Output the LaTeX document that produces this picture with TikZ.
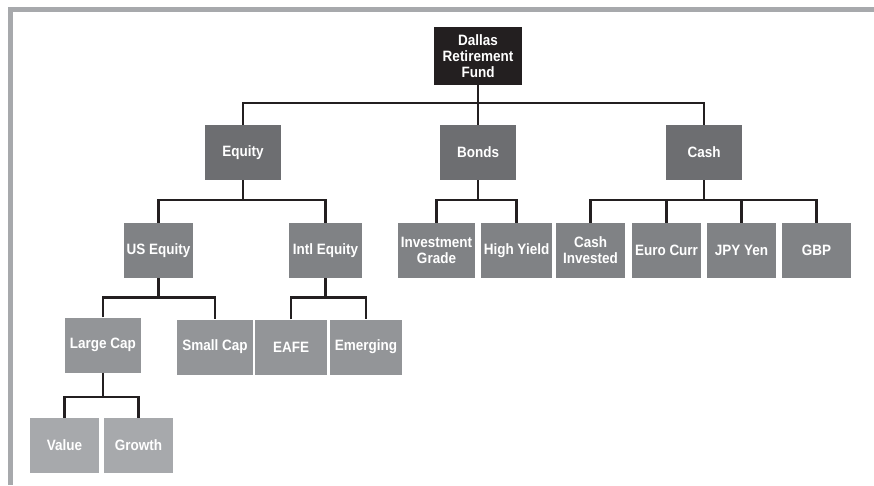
\documentclass[tikz,border=0pt]{standalone}
\usepackage{fontspec}
\usepackage{tikz}
\newfontfamily\boxfont{Liberation Sans}[FakeStretch=0.9]
\definecolor{mblack}{HTML}{231F20}
\definecolor{lvlone}{HTML}{6D6E71}
\definecolor{lvltwo}{HTML}{808285}
\definecolor{lvlthree}{HTML}{939598}
\definecolor{lvlfour}{HTML}{A7A9AC}
\definecolor{framegray}{HTML}{A7A9AC}
\tikzset{box/.style = {fill=#1, text=white, font=\boxfont\bfseries\fontsize{15}{16}\selectfont, align=center, inner sep=0, minimum height=55pt}}
\tikzset{wire/.style = {draw=mblack, line width=2.6pt}}

\begin{document}
\begin{tikzpicture}[x=1pt, y=-1pt]
    \useasboundingbox (0, 0) rectangle (874, 485);
    \fill [framegray] (8, 7) rectangle (874, 12);
    \fill [framegray] (8, 7) rectangle (13, 485);

    \node [box=mblack, minimum width=88pt, minimum height=58pt] (fund) at (478, 56) {Dallas\\Retirement\\Fund};

    \node [box=lvlone, minimum width=76pt] (equity) at (243, 152.5) {Equity};
    \node [box=lvlone, minimum width=76pt] (bonds) at (478, 152.5) {Bonds};
    \node [box=lvlone, minimum width=76pt] (cash) at (704, 152.5) {Cash};

    \node [box=lvltwo, minimum width=69pt] (usequity) at (158.5, 250.5) {US Equity};
    \node [box=lvltwo, minimum width=73pt] (intlequity) at (325.5, 250.5) {Intl Equity};
    \node [box=lvltwo, minimum width=77pt] (invgrade) at (436.5, 250.5) {Investment\\Grade};
    \node [box=lvltwo, minimum width=71pt] (highyield) at (516.5, 250.5) {High Yield};
    \node [box=lvltwo, minimum width=69pt] (cashinv) at (590.5, 250.5) {Cash\\Invested};
    \node [box=lvltwo, minimum width=69pt] (eurocurr) at (666.5, 250.5) {Euro Curr};
    \node [box=lvltwo, minimum width=69pt] (jpyyen) at (741.5, 250.5) {JPY Yen};
    \node [box=lvltwo, minimum width=69pt] (gbp) at (816.5, 250.5) {GBP};

    \node [box=lvlthree, minimum width=76pt] (largecap) at (103, 345) {Large Cap};
    \node [box=lvlthree, minimum width=76pt] (smallcap) at (215, 347) {Small Cap};
    \node [box=lvlthree, minimum width=72pt] (eafe) at (291, 347) {EAFE};
    \node [box=lvlthree, minimum width=72pt] (emerging) at (366, 347) {Emerging};

    \node [box=lvlfour, minimum width=69pt] (value) at (64.5, 445.5) {Value};
    \node [box=lvlfour, minimum width=69pt] (growth) at (138.5, 445.5) {Growth};

    \coordinate (fundbus) at (478, 103);
    \coordinate (equitybus) at (243, 200);
    \coordinate (bondsbus) at (478, 200);
    \coordinate (cashbus) at (704, 200);
    \coordinate (usbus) at (158.5, 297.5);
    \coordinate (intlbus) at (325.5, 297.5);
    \coordinate (largebus) at (103, 397);

    \draw [wire] (fund.south) -- (bonds.north);
    \draw [wire] (equity.north) |- (fundbus) -| (cash.north);

    \draw [wire] (equity.south) -- (equitybus);
    \draw [wire] (usequity.north) |- (equitybus) -| (intlequity.north);

    \draw [wire] (bonds.south) -- (bondsbus);
    \draw [wire] (invgrade.north) |- (bondsbus) -| (highyield.north);

    \draw [wire] (cash.south) -- (cashbus);
    \draw [wire] (cashinv.north) |- (cashbus) -| (gbp.north);
    \foreach \leaf in {eurocurr, jpyyen}
      \draw [wire] (\leaf.north) -- (\leaf.north |- cashbus);

    \draw [wire] (usequity.south) -- (usbus);
    \draw [wire] (largecap.north) |- (usbus) -| (smallcap.north);

    \draw [wire] (intlequity.south) -- (intlbus);
    \draw [wire] (eafe.north) |- (intlbus) -| (emerging.north);

    \draw [wire] (largecap.south) -- (largebus);
    \draw [wire] (value.north) |- (largebus) -| (growth.north);
  \end{tikzpicture}
\end{document}
